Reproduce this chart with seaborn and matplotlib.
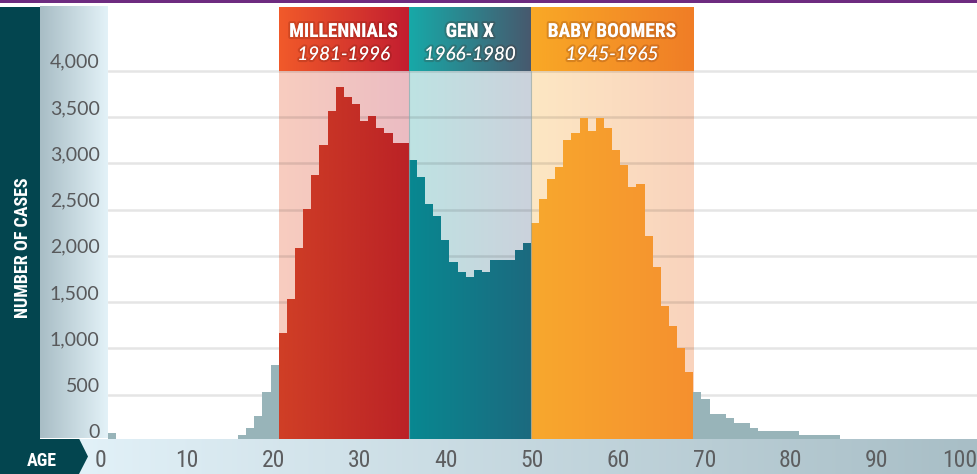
import numpy as np
import pandas as pd
import matplotlib
matplotlib.use("Agg")
import matplotlib.pyplot as plt
import matplotlib.transforms as mtransforms
import matplotlib.patheffects as pe
from matplotlib import font_manager as fm
from matplotlib.colors import to_rgb
from matplotlib.patches import Polygon, Rectangle
from matplotlib.path import Path
import seaborn as sns

# ---------------- data ----------------
young_ages = list(range(0, 21))
young_cases = [90, 0, 0, 0, 0, 0, 0, 0, 0, 0, 0, 0, 0, 0, 0, 0, 65, 140, 270, 530, 820]
millennial_ages = list(range(21, 37))
millennial_cases = [1166, 1534, 2084, 2506, 2873, 3197, 3564, 3823, 3715, 3640,
                    3456, 3510, 3380, 3326, 3218, 3218]
genx_ages = list(range(37, 52))
genx_cases = [3035, 2851, 2560, 2430, 2171, 1933, 1825, 1771, 1847, 1825,
              1955, 1955, 1955, 2063, 2138]
boomer_ages = list(range(52, 72))
boomer_cases = [2354, 2614, 2830, 2959, 3251, 3326, 3488, 3348, 3488, 3380,
                3143, 2981, 2743, 2776, 2214, 1879, 1458, 1242, 1004, 745]
older_ages = list(range(72, 100))
older_cases = [529, 454, 292, 292, 248, 194, 194, 140, 108, 108, 108, 108, 108,
               65, 65, 65, 65, 65, 0, 0, 0, 0, 0, 0, 0, 0, 0, 0]

generation_names = ["MILLENNIALS", "GEN X", "BABY BOOMERS"]
generation_years = ["1981-1996", "1966-1980", "1945-1965"]
y_ticks = [0, 500, 1000, 1500, 2000, 2500, 3000, 3500, 4000]
age_ticks = [0, 10, 20, 30, 40, 50, 60, 70, 80, 90, 100]

# ---------------- style ----------------
sns.set_style("white")
avail = {f.name for f in fm.fontManager.ttflist}


def fams(*names):
    return [n for n in names if n in avail] + ["DejaVu Sans"]


COND = fams("Liberation Sans Narrow", "DejaVu Sans Condensed", "Roboto Condensed")
PLAIN = fams("Lato", "Open Sans", "Roboto")
plt.rcParams["font.family"] = PLAIN

W, H = 977, 474
fig = plt.figure(figsize=(W / 100, H / 100), dpi=100)


def fax(x0, y0, x1, y1):
    return fig.add_axes([x0 / W, 1 - y1 / H, (x1 - x0) / W, (y1 - y0) / H])


def gradient(a, c0, c1, extent, zorder):
    t = np.linspace(0, 1, 256)[None, :, None]
    img = (1 - t) * np.array(to_rgb(c0)) + t * np.array(to_rgb(c1))
    return a.imshow(img, extent=extent, aspect="auto", interpolation="bilinear",
                    zorder=zorder)


# ---------------- background decorations ----------------
bg = fax(0, 0, W, H)
bg.set_axis_off()
gradient(bg, "#a8bdc5", "#e3f2f8", (40, 108, 438.5, 7), 1)
bg.add_patch(Rectangle((0, 0), W, 3.2, color="#6e2b80", lw=0, zorder=2))
bg.add_patch(Rectangle((0, 7), 40, 431.5, color="#03454f", lw=0, zorder=2))
bg.text(23, 248, "NUMBER OF CASES", rotation=90, color="white", fontsize=13,
        fontweight="bold", family=COND, ha="center", va="center", zorder=3)
bg.set_xlim(0, W)
bg.set_ylim(H, 0)

# ---------------- main histogram ----------------
ax = fax(108, 7, W, 441)
ax.patch.set_alpha(0)
YMAX = 4000 * 434 / 370.3

groups = [
    (young_ages, young_cases, "#98b4b9", None),
    (millennial_ages, millennial_cases, "#c73226", ("#d03f26", "#bb2226")),
    (genx_ages, genx_cases, "#137a88", ("#088891", "#1c6a7f")),
    (boomer_ages, boomer_cases, "#f79e2e", ("#f8a82d", "#f5902f")),
    (older_ages, older_cases, "#98b4b9", None),
]
for ages, cases, col, gcols in groups:
    n0 = len(ax.patches)
    df = pd.DataFrame({"age": ages, "cases": cases})
    sns.barplot(data=df, x="age", y="cases", native_scale=True, color=col,
                saturation=1, width=1, errorbar=None, linewidth=0, ax=ax, zorder=1)
    if gcols:
        bars = list(ax.patches)[n0:]
        path = Path.make_compound_path(
            *[b.get_path().transformed(b.get_patch_transform()) for b in bars])
        im = gradient(ax, gcols[0], gcols[1], (ages[0] - 0.5, ages[-1] + 0.5, 0, 4000), 1.5)
        im.set_clip_path(path, ax.transData)

# generation shading + headers
gen_ages = [millennial_ages, genx_ages, boomer_ages]
shade_cols = [("#f8cdbf", "#ebbcc3"), ("#bee3e3", "#cbd2dc"), ("#fde7c3", "#f9d3bd")]
head_cols = [("#f15a2a", "#c21d30"), ("#17a9a8", "#47596e"), ("#f9a926", "#f07d26")]
bt = mtransforms.blended_transform_factory(ax.transData, ax.transAxes)
glow = [pe.withStroke(linewidth=3, foreground=(0.3, 0.05, 0.0, 0.18))]
for ages, sc, hc, name, yrs in zip(gen_ages, shade_cols, head_cols,
                                   generation_names, generation_years):
    x0, x1 = ages[0] - 0.5, ages[-1] + 0.5
    gradient(ax, sc[0], sc[1], (x0, x1, 0, 4000), 0.2)
    gradient(ax, hc[0], hc[1], (x0, x1, 4000, YMAX), 3)
    cx = (x0 + x1) / 2
    ax.text(cx, (441 - 37) / 434, name, transform=bt, ha="center", va="baseline",
            color="white", fontsize=14, fontweight="bold", family=COND, zorder=4,
            path_effects=glow)
    ax.text(cx, (441 - 60) / 434, yrs, transform=bt, ha="center", va="baseline",
            color="white", fontsize=13.5, style="italic", family=PLAIN, zorder=4,
            path_effects=glow)

for ages in gen_ages[1:]:
    ax.axvline(ages[0] - 0.5, ymin=0, ymax=4000 / YMAX, color="#8fa5aa",
               lw=0.8, alpha=0.7, zorder=2)

for v in y_ticks[1:]:
    ax.axhline(v, color="black", alpha=0.1, lw=1.8, zorder=0.5)

ax.set_ylim(0, YMAX)
ax.set_xlim(-0.5, -0.5 + 869 / 8.13)
ax.set_yticks(y_ticks)
ax.set_yticklabels([f"{v:,}" for v in y_ticks])
ax.tick_params(axis="y", length=0, pad=6, labelsize=14, labelcolor="#58595b")
for lab in ax.get_yticklabels():
    lab.set_va("bottom")
ax.set_xticks([])
ax.set_xlabel("")
ax.set_ylabel("")
for s in ax.spines.values():
    s.set_visible(False)

# ---------------- age band ----------------
fg = fax(0, 438.5, W, H)
fg.patch.set_alpha(0)
AGE0, AGE_PX = 100.6, 8.626
fg_xlim = ((0 - AGE0) / AGE_PX, (W - AGE0) / AGE_PX)
gradient(fg, "#e3f2f9", "#a8bec6", ((60 - AGE0) / AGE_PX, fg_xlim[1], 0, 1), 0)
fg.add_patch(Polygon([(0, 438.5), (79, 438.5), (88, 456.5), (79, 474), (0, 474)],
                     closed=True, color="#03454f", lw=0, transform=bg.transData,
                     zorder=2))
fg.text(42, 466.5, "AGE", transform=bg.transData, color="white", fontsize=13,
        fontweight="bold", family=COND, ha="center", va="baseline", zorder=3)
fg.set_xlim(*fg_xlim)
fg.set_ylim(0, 1)
fg.set_xticks(age_ticks)
fg.set_xticklabels([str(a) for a in age_ticks])
fg.tick_params(axis="x", length=0, pad=-5.0, labelsize=17, labelcolor="#5d5e60")
for lab in fg.get_xticklabels():
    lab.set_va("baseline")
    lab.set_family(COND)
last = fg.get_xticklabels()[-1]
last.set_transform(last.get_transform()
                   + mtransforms.ScaledTranslation(-0.04, 0, fig.dpi_scale_trans))
fg.set_yticks([])
for s in fg.spines.values():
    s.set_visible(False)

fig.savefig("out.png", dpi=100)
